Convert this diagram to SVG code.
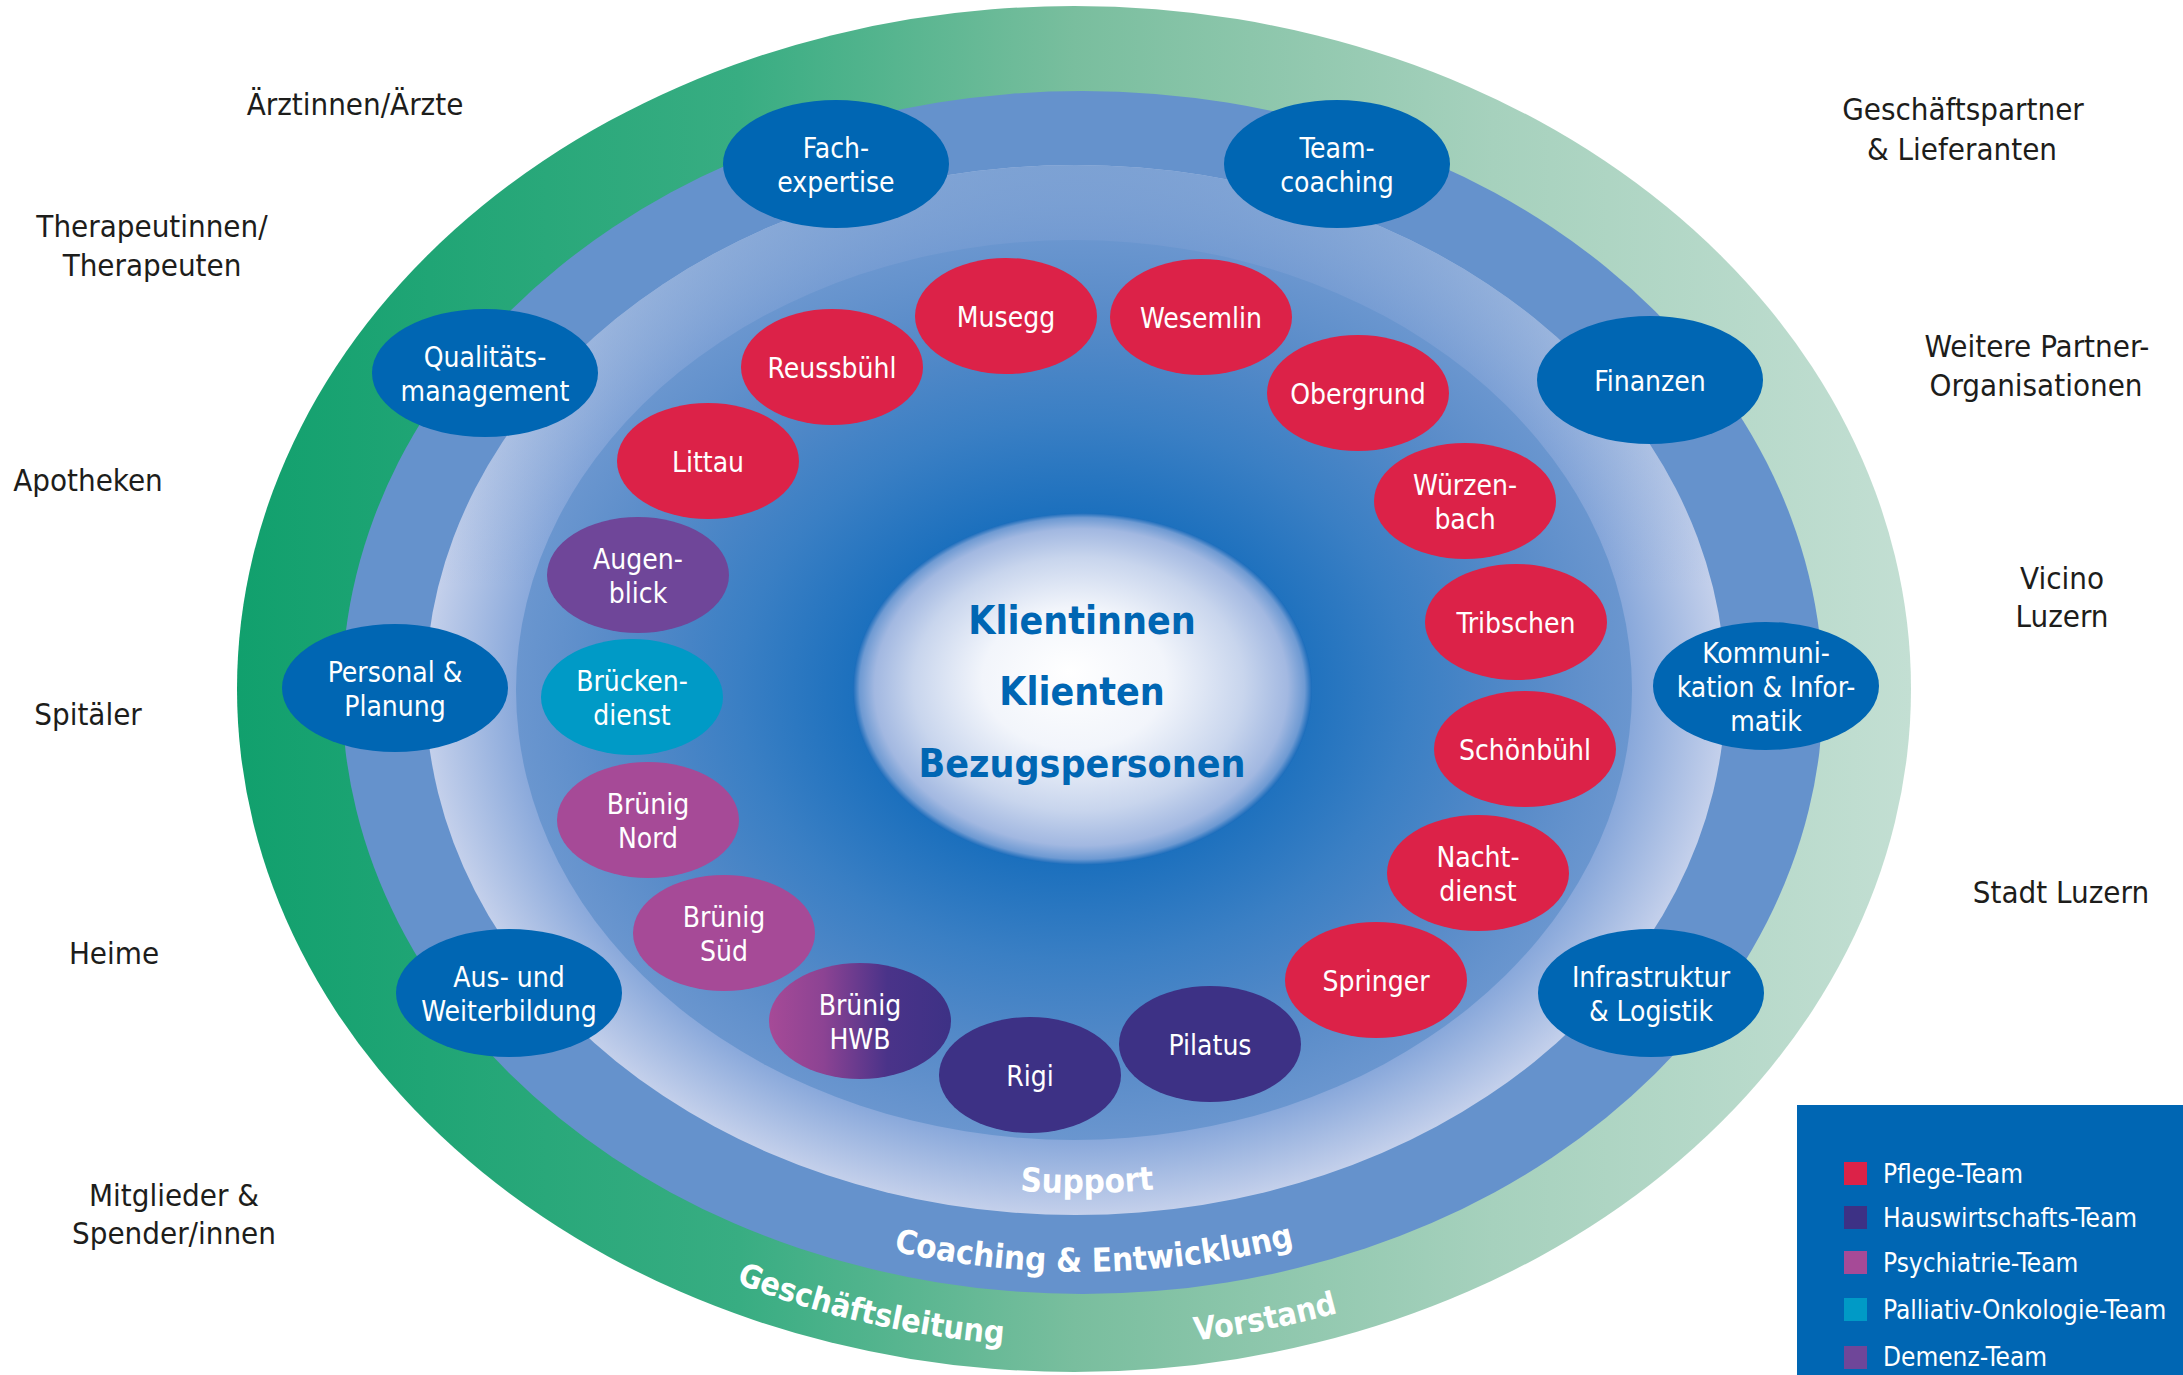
<svg xmlns="http://www.w3.org/2000/svg" width="2183" height="1375" viewBox="0 0 2183 1375">
<defs>
<style>
text{font-family:'DejaVu Sans Condensed','DejaVu Sans',sans-serif;font-stretch:condensed}
.lbl{font-size:31px;fill:#1d1d1b;text-anchor:middle}
.nt{font-size:28px;fill:#fff;text-anchor:middle}
.nb{fill:#0066b3}
.red{fill:#dc2248}
.hw{fill:#3d3185}
.psy{fill:#a64a97}
.pal{fill:#009ac6}
.dem{fill:#6f4699}
.ring{font-weight:bold;fill:#fff;text-anchor:middle}
.ctr{font-weight:bold;fill:#0066b3;font-size:39px;text-anchor:middle}
.leg{font-size:26px;fill:#fff}
</style>
<linearGradient id="gGreen" x1="237" y1="0" x2="1911" y2="0" gradientUnits="userSpaceOnUse">
<stop offset="0" stop-color="#11a06d"/>
<stop offset="0.3" stop-color="#38ad82"/>
<stop offset="0.5" stop-color="#79be9e"/>
<stop offset="0.75" stop-color="#a6d1bd"/>
<stop offset="1" stop-color="#c3dfd3"/>
</linearGradient>
<radialGradient id="gBand">
<stop offset="0.8" stop-color="#6d97d0"/>
<stop offset="0.86" stop-color="#8aa9db"/>
<stop offset="1" stop-color="#c4d0eb"/>
</radialGradient>
<linearGradient id="gBandTop" x1="0" y1="0" x2="0" y2="1">
<stop offset="0" stop-color="#6592cc" stop-opacity="0.75"/>
<stop offset="0.4" stop-color="#6592cc" stop-opacity="0"/>
</linearGradient>
<radialGradient id="gInner">
<stop offset="0.38" stop-color="#1a6fbd"/>
<stop offset="0.6" stop-color="#3a7fc4"/>
<stop offset="0.85" stop-color="#5a8cc9"/>
<stop offset="1" stop-color="#6a96cf"/>
</radialGradient>
<radialGradient id="gCenter" cx="0.5" cy="0.5" r="0.5" fx="0.47" fy="0.45">
<stop offset="0" stop-color="#ffffff"/>
<stop offset="0.4" stop-color="#f2f5fb"/>
<stop offset="0.72" stop-color="#c8d5ed"/>
<stop offset="0.9" stop-color="#a2b8e1"/>
<stop offset="0.97" stop-color="#6e9ad3"/>
<stop offset="1" stop-color="#1a6cbb"/>
</radialGradient>
<linearGradient id="gHWB" x1="0" y1="0" x2="1" y2="0">
<stop offset="0" stop-color="#a64a97"/>
<stop offset="0.3" stop-color="#8c4393"/>
<stop offset="0.65" stop-color="#4a3389"/>
<stop offset="1" stop-color="#3d3185"/>
</linearGradient>
<path id="pSupport" d="M 460 690 A 620 503 0 0 0 1700 690"/>
<path id="pCoach" d="M 366 690 A 716 582 0 0 0 1798 690"/>
<path id="pGreen" d="M 278 690 A 804 657 0 0 0 1886 690"/>
</defs>

<g id="rings">
<ellipse cx="1074" cy="689" rx="837" ry="683" fill="url(#gGreen)"/>
<ellipse cx="1082.5" cy="692.5" rx="740.5" ry="601.5" fill="#6592cc"/>
<ellipse cx="1075.5" cy="690" rx="650" ry="525" fill="url(#gBand)"/>
<ellipse cx="1075.5" cy="690" rx="650" ry="525" fill="url(#gBandTop)"/>
<ellipse cx="1074" cy="690" rx="558" ry="450" fill="url(#gInner)"/>
</g>

<g id="ring-labels">
<text class="ring" font-size="33"><textPath href="#pSupport" startOffset="50.4%">Support</textPath></text>
<text class="ring" font-size="33"><textPath href="#pCoach" startOffset="50.6%">Coaching &amp; Entwicklung</textPath></text>
<text class="ring" font-size="32"><textPath href="#pGreen" startOffset="40.6%">Geschäftsleitung</textPath></text>
<text class="ring" font-size="32"><textPath href="#pGreen" startOffset="58.1%">Vorstand</textPath></text>
</g>

<g id="n-klienten">
<ellipse cx="1082.5" cy="689" rx="229.5" ry="176" fill="url(#gCenter)"/>
<text class="ctr" x="1082" y="634">Klientinnen</text>
<text class="ctr" x="1082" y="705">Klienten</text>
<text class="ctr" x="1082" y="777">Bezugspersonen</text>
</g>

<g id="n-fachexpertise"><ellipse class="nb" cx="836" cy="164" rx="113" ry="64"/><text class="nt" x="836" y="158">Fach-</text><text class="nt" x="836" y="192">expertise</text></g>
<g id="n-teamcoaching"><ellipse class="nb" cx="1337" cy="164" rx="113" ry="64"/><text class="nt" x="1337" y="158">Team-</text><text class="nt" x="1337" y="192">coaching</text></g>
<g id="n-qualitaet"><ellipse class="nb" cx="485" cy="373" rx="113" ry="64"/><text class="nt" x="485" y="367">Qualitäts-</text><text class="nt" x="485" y="401">management</text></g>
<g id="n-finanzen"><ellipse class="nb" cx="1650" cy="380" rx="113" ry="64"/><text class="nt" x="1650" y="391">Finanzen</text></g>
<g id="n-personal"><ellipse class="nb" cx="395" cy="688" rx="113" ry="64"/><text class="nt" x="395" y="682">Personal &amp;</text><text class="nt" x="395" y="716">Planung</text></g>
<g id="n-kommunikation"><ellipse class="nb" cx="1766" cy="686" rx="113" ry="64"/><text class="nt" x="1766" y="663">Kommuni-</text><text class="nt" x="1766" y="697">kation &amp; Infor-</text><text class="nt" x="1766" y="731">matik</text></g>
<g id="n-ausbildung"><ellipse class="nb" cx="509" cy="993" rx="113" ry="64"/><text class="nt" x="509" y="987">Aus- und</text><text class="nt" x="509" y="1021">Weiterbildung</text></g>
<g id="n-infrastruktur"><ellipse class="nb" cx="1651" cy="993" rx="113" ry="64"/><text class="nt" x="1651" y="987">Infrastruktur</text><text class="nt" x="1651" y="1021">&amp; Logistik</text></g>

<g id="n-musegg"><ellipse class="red" cx="1006" cy="316" rx="91" ry="58"/><text class="nt" x="1006" y="327">Musegg</text></g>
<g id="n-reussbuehl"><ellipse class="red" cx="832" cy="367" rx="91" ry="58"/><text class="nt" x="832" y="378">Reussbühl</text></g>
<g id="n-littau"><ellipse class="red" cx="708" cy="461" rx="91" ry="58"/><text class="nt" x="708" y="472">Littau</text></g>
<g id="n-wesemlin"><ellipse class="red" cx="1201" cy="317" rx="91" ry="58"/><text class="nt" x="1201" y="328">Wesemlin</text></g>
<g id="n-obergrund"><ellipse class="red" cx="1358" cy="393" rx="91" ry="58"/><text class="nt" x="1358" y="404">Obergrund</text></g>
<g id="n-wuerzenbach"><ellipse class="red" cx="1465" cy="501" rx="91" ry="58"/><text class="nt" x="1465" y="495">Würzen-</text><text class="nt" x="1465" y="529">bach</text></g>
<g id="n-tribschen"><ellipse class="red" cx="1516" cy="622" rx="91" ry="58"/><text class="nt" x="1516" y="633">Tribschen</text></g>
<g id="n-schoenbuehl"><ellipse class="red" cx="1525" cy="749" rx="91" ry="58"/><text class="nt" x="1525" y="760">Schönbühl</text></g>
<g id="n-nachtdienst"><ellipse class="red" cx="1478" cy="873" rx="91" ry="58"/><text class="nt" x="1478" y="867">Nacht-</text><text class="nt" x="1478" y="901">dienst</text></g>
<g id="n-springer"><ellipse class="red" cx="1376" cy="980" rx="91" ry="58"/><text class="nt" x="1376" y="991">Springer</text></g>
<g id="n-augenblick"><ellipse class="dem" cx="638" cy="575" rx="91" ry="58"/><text class="nt" x="638" y="569">Augen-</text><text class="nt" x="638" y="603">blick</text></g>
<g id="n-brueckendienst"><ellipse class="pal" cx="632" cy="697" rx="91" ry="58"/><text class="nt" x="632" y="691">Brücken-</text><text class="nt" x="632" y="725">dienst</text></g>
<g id="n-bruenignord"><ellipse class="psy" cx="648" cy="820" rx="91" ry="58"/><text class="nt" x="648" y="814">Brünig</text><text class="nt" x="648" y="848">Nord</text></g>
<g id="n-bruenigsued"><ellipse class="psy" cx="724" cy="933" rx="91" ry="58"/><text class="nt" x="724" y="927">Brünig</text><text class="nt" x="724" y="961">Süd</text></g>
<g id="n-bruenighwb"><ellipse cx="860" cy="1021" rx="91" ry="58" fill="url(#gHWB)"/><text class="nt" x="860" y="1015">Brünig</text><text class="nt" x="860" y="1049">HWB</text></g>
<g id="n-rigi"><ellipse class="hw" cx="1030" cy="1075" rx="91" ry="58"/><text class="nt" x="1030" y="1086">Rigi</text></g>
<g id="n-pilatus"><ellipse class="hw" cx="1210" cy="1044" rx="91" ry="58"/><text class="nt" x="1210" y="1055">Pilatus</text></g>

<g id="outer-labels">
<text class="lbl" x="355" y="115">Ärztinnen/Ärzte</text>
<text class="lbl" x="152" y="237">Therapeutinnen/</text>
<text class="lbl" x="152" y="276">Therapeuten</text>
<text class="lbl" x="88" y="491">Apotheken</text>
<text class="lbl" x="88" y="725">Spitäler</text>
<text class="lbl" x="114" y="964">Heime</text>
<text class="lbl" x="174" y="1206">Mitglieder &amp;</text>
<text class="lbl" x="174" y="1244">Spender/innen</text>
<text class="lbl" x="1963" y="120">Geschäftspartner</text>
<text class="lbl" x="1962" y="160">&amp; Lieferanten</text>
<text class="lbl" x="2037" y="357">Weitere Partner-</text>
<text class="lbl" x="2036" y="396">Organisationen</text>
<text class="lbl" x="2062" y="589">Vicino</text>
<text class="lbl" x="2062" y="627">Luzern</text>
<text class="lbl" x="2061" y="903">Stadt Luzern</text>
</g>

<g id="legend">
<rect x="1797" y="1105" width="386" height="270" fill="#0066b3"/>
<rect x="1844" y="1162" width="23" height="23" fill="#dc2248"/><text class="leg" x="1883" y="1183">Pflege-Team</text>
<rect x="1844" y="1206" width="23" height="23" fill="#3d3185"/><text class="leg" x="1883" y="1227">Hauswirtschafts-Team</text>
<rect x="1844" y="1251" width="23" height="23" fill="#a64a97"/><text class="leg" x="1883" y="1272">Psychiatrie-Team</text>
<rect x="1844" y="1298" width="23" height="23" fill="#009ac6"/><text class="leg" x="1883" y="1319">Palliativ-Onkologie-Team</text>
<rect x="1844" y="1346" width="23" height="23" fill="#6f4699"/><text class="leg" x="1883" y="1366">Demenz-Team</text>
</g>
</svg>
